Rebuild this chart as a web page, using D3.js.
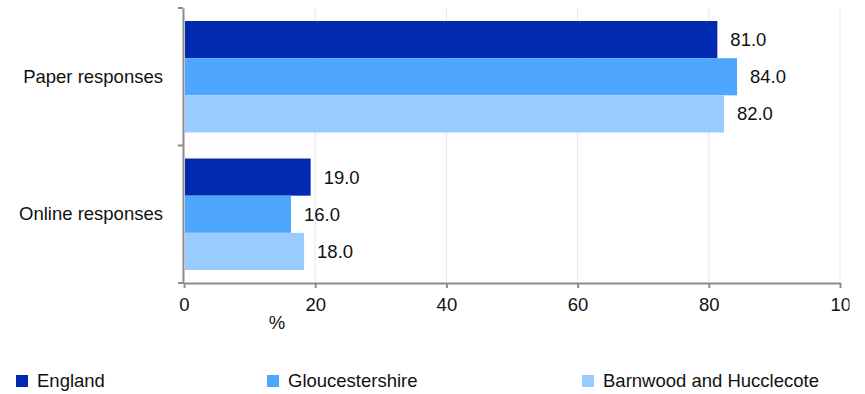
<!DOCTYPE html>
<html><head><meta charset="utf-8">
<script src="https://cdn.jsdelivr.net/npm/d3@7"></script>
<style>body{margin:0;background:#fff;}text{font-family:"Liberation Sans",Arial,sans-serif;}</style>
</head><body><svg id="c" width="865" height="394"></svg>
<script>
const categories = ["Paper responses", "Online responses"];
const seriesNames = ["England", "Gloucestershire", "Barnwood and Hucclecote"];
const england = [81.0, 19.0];
const gloucestershire = [84.0, 16.0];
const barnwood = [82.0, 18.0];
const xTicks = [0, 20, 40, 60, 80, 100];
const colors = ["#002aaf", "#4ea6ff", "#99cbff"];

(function(){
const series = [england, gloucestershire, barnwood];
const svg = d3.select("#c");
const FS = 18.5;
const pLeft = 184, pRight = 840, pTop = 8, pBottom = 283;
const x = d3.scaleLinear().domain([0, 100]).range([pLeft, pRight]);
const y = d3.scaleBand().domain(categories).range([pTop, pBottom]).paddingInner(0).paddingOuter(0);
const inner = d3.scaleBand().domain(seriesNames).range([0, y.bandwidth()]).paddingOuter(0.35).paddingInner(0);

svg.append("defs").append("clipPath").attr("id", "clip100")
  .append("rect").attr("x", -20).attr("y", -10).attr("width", 29).attr("height", 40);

// gridlines
svg.append("g").selectAll("line").data(xTicks.slice(1)).join("line")
  .attr("x1", d => x(d)).attr("x2", d => x(d)).attr("y1", pTop).attr("y2", pBottom)
  .attr("stroke", "#e6e6e6").attr("stroke-width", 1);

// bars
const g = svg.append("g");
categories.forEach((c, i) => {
  seriesNames.forEach((s, j) => {
    const v = series[j][i];
    g.append("rect").attr("x", x(0) + 1).attr("y", y(c) + inner(s))
      .attr("width", x(v) - x(0) + 1).attr("height", inner.bandwidth())
      .attr("fill", colors[j]);
    g.append("text").attr("x", x(v) + 15).attr("y", y(c) + inner(s) + inner.bandwidth() / 2)
      .attr("dy", "0.35em").attr("font-size", FS).attr("fill", "#111").text(v.toFixed(1));
  });
});

// x axis
const xa = svg.append("g").attr("transform", `translate(0,${pBottom})`)
  .call(d3.axisBottom(x).tickValues(xTicks).tickSize(5).tickSizeOuter(0).tickFormat(d3.format("d")));
xa.select(".domain").attr("stroke", "#8c8c8c").attr("stroke-width", 2);
xa.selectAll(".tick line").attr("stroke", "#8c8c8c").attr("stroke-width", 2);
xa.selectAll(".tick text").attr("font-size", FS).attr("fill", "#111").attr("y", 22).attr("dy", "0.35em")
  .attr("font-family", "Liberation Sans, Arial, sans-serif");
xa.selectAll(".tick").filter(d => d === 100).select("text")
  .attr("text-anchor", "start").attr("x", -10).attr("clip-path", "url(#clip100)");

// y axis
const ya = svg.append("g").attr("transform", `translate(${pLeft - 1},0)`)
  .call(d3.axisLeft(y).tickSize(0).tickSizeOuter(0));
ya.select(".domain").attr("stroke", "#8c8c8c").attr("stroke-width", 2);
ya.selectAll(".tick text").attr("font-size", FS).attr("fill", "#111").attr("x", -20)
  .attr("font-family", "Liberation Sans, Arial, sans-serif");
const bounds = [pTop, y(categories[1]), pBottom];
ya.selectAll(".bt").data(bounds).join("line").attr("class", "bt")
  .attr("x1", -5).attr("x2", 0).attr("y1", d => d).attr("y2", d => d)
  .attr("stroke", "#8c8c8c").attr("stroke-width", 2);

// axis title
svg.append("text").attr("x", 277).attr("y", 323).attr("dy", "0.35em").attr("text-anchor", "middle")
  .attr("font-size", FS).attr("fill", "#111").text("%");

// legend
const legX = [16, 267, 582];
const lg = svg.append("g");
seriesNames.forEach((s, j) => {
  lg.append("rect").attr("x", legX[j]).attr("y", 375).attr("width", 12).attr("height", 12).attr("fill", colors[j]);
  lg.append("text").attr("x", legX[j] + 21).attr("y", 381).attr("dy", "0.35em")
    .attr("font-size", FS).attr("fill", "#111").text(s);
});
})();
</script></body></html>
